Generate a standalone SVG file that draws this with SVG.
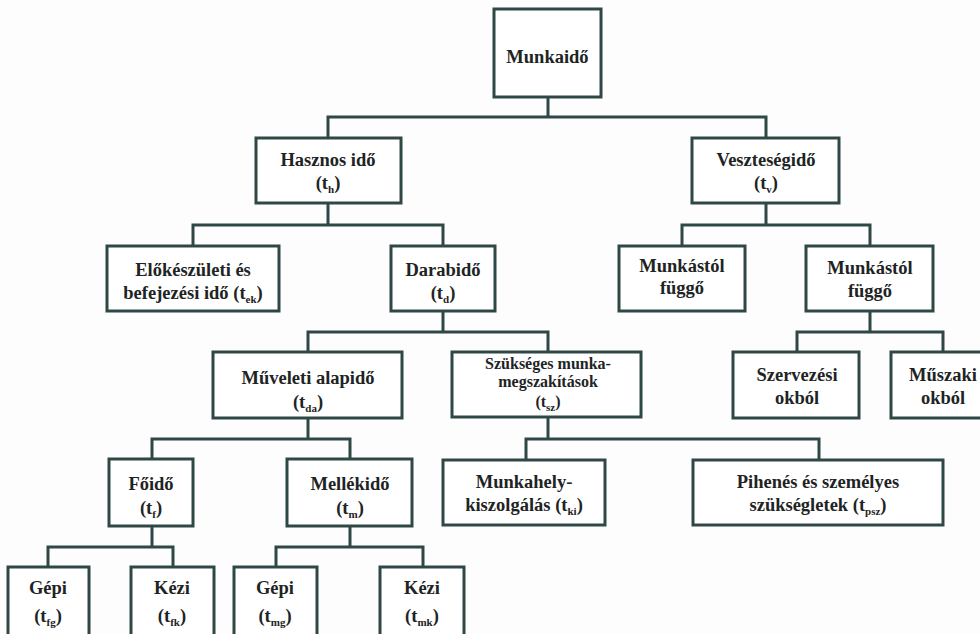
<svg xmlns="http://www.w3.org/2000/svg" width="980" height="634" viewBox="0 0 980 634">
<defs>
<style>
.box{fill:#ffffff;stroke:#2f4846;stroke-width:3}
.con{fill:none;stroke:#2f4846;stroke-width:3}
.t text{font-weight:bold;font-size:18.5px;fill:#1e2424;text-anchor:middle}
.sub{font-size:11px}
.t text.tight{font-size:16px}
</style>
</defs>
<rect width="980" height="634" fill="#fdfdfd"/>
<g id="connectors">
<path class="con" d="M548,97V117M328,138V117H766V138"/>
<path class="con" d="M328,203V225M193,246V225H443V246"/>
<path class="con" d="M766,203V225M682,246V225H870V246"/>
<path class="con" d="M443,311V332M308,352V332H548V352"/>
<path class="con" d="M870,311V332M797,352V332H943V352"/>
<path class="con" d="M308,418V439M152,459V439H350V459"/>
<path class="con" d="M548,418V439M526,460V439H819V460"/>
<path class="con" d="M152,526V547M48,567V547H173V567"/>
<path class="con" d="M350,526V547M276,567V547H423V567"/>
</g>
<g class="t" font-family="Liberation Serif, DejaVu Serif, Times New Roman, serif">
<g id="munkaido"><rect class="box" x="494" y="9" width="107" height="88"/><text x="547.5" y="63">Munkaidő</text></g>
<g id="hasznos"><rect class="box" x="256" y="138" width="145" height="65"/><text x="328" y="166">Hasznos idő</text><text x="328" y="189">(t<tspan class="sub" dy="4">h</tspan><tspan dy="-4">)</tspan></text></g>
<g id="veszteseg"><rect class="box" x="692" y="138" width="147" height="65"/><text x="766" y="166">Veszteségidő</text><text x="766" y="189">(t<tspan class="sub" dy="4">v</tspan><tspan dy="-4">)</tspan></text></g>
<g id="elokeszuleti"><rect class="box" x="107" y="246" width="172" height="65"/><text x="193" y="276">Előkészületi és</text><text x="193" y="299">befejezési idő (t<tspan class="sub" dy="4">ek</tspan><tspan dy="-4">)</tspan></text></g>
<g id="darabido"><rect class="box" x="391" y="246" width="104" height="65"/><text x="443" y="276">Darabidő</text><text x="443" y="299">(t<tspan class="sub" dy="4">d</tspan><tspan dy="-4">)</tspan></text></g>
<g id="munkastol1"><rect class="box" x="619" y="246" width="126" height="65"/><text x="682" y="272">Munkástól</text><text x="682" y="294">függő</text></g>
<g id="munkastol2"><rect class="box" x="806" y="246" width="127" height="65"/><text x="870" y="274">Munkástól</text><text x="870" y="297">függő</text></g>
<g id="muveleti"><rect class="box" x="213" y="352" width="189" height="66"/><text x="308" y="384">Műveleti alapidő</text><text x="308" y="408">(t<tspan class="sub" dy="4">da</tspan><tspan dy="-4">)</tspan></text></g>
<g id="szukseges"><rect class="box" x="452" y="352" width="189" height="65"/><text class="tight" x="548" y="369">Szükséges munka-</text><text class="tight" x="548" y="387">megszakítások</text><text class="tight" x="548" y="407">(t<tspan class="sub" dy="4">sz</tspan><tspan dy="-4">)</tspan></text></g>
<g id="szervezesi"><rect class="box" x="733" y="352" width="126" height="66"/><text x="797" y="381">Szervezési</text><text x="797" y="404">okból</text></g>
<g id="muszaki"><rect class="box" x="891" y="352" width="105" height="66"/><text x="943" y="381">Műszaki</text><text x="943" y="404">okból</text></g>
<g id="foido"><rect class="box" x="109" y="459" width="84" height="67"/><text x="151" y="490">Főidő</text><text x="151" y="514">(t<tspan class="sub" dy="4">f</tspan><tspan dy="-4">)</tspan></text></g>
<g id="mellekido"><rect class="box" x="287" y="459" width="125" height="67"/><text x="350" y="490">Mellékidő</text><text x="350" y="514">(t<tspan class="sub" dy="4">m</tspan><tspan dy="-4">)</tspan></text></g>
<g id="munkahely"><rect class="box" x="443" y="460" width="162" height="65"/><text x="524" y="488">Munkahely-</text><text x="524" y="511">kiszolgálás (t<tspan class="sub" dy="4">ki</tspan><tspan dy="-4">)</tspan></text></g>
<g id="pihenes"><rect class="box" x="693" y="460" width="250" height="65"/><text x="818" y="488">Pihenés és személyes</text><text x="818" y="511">szükségletek (t<tspan class="sub" dy="4">psz</tspan><tspan dy="-4">)</tspan></text></g>
<g id="gepi1"><rect class="box" x="8" y="567" width="81" height="80"/><text x="48" y="594">Gépi</text><text x="48" y="622">(t<tspan class="sub" dy="4">fg</tspan><tspan dy="-4">)</tspan></text></g>
<g id="kezi1"><rect class="box" x="131" y="567" width="83" height="80"/><text x="172" y="594">Kézi</text><text x="172" y="622">(t<tspan class="sub" dy="4">fk</tspan><tspan dy="-4">)</tspan></text></g>
<g id="gepi2"><rect class="box" x="234" y="567" width="83" height="80"/><text x="275" y="594">Gépi</text><text x="275" y="622">(t<tspan class="sub" dy="4">mg</tspan><tspan dy="-4">)</tspan></text></g>
<g id="kezi2"><rect class="box" x="380" y="567" width="84" height="80"/><text x="422" y="594">Kézi</text><text x="422" y="622">(t<tspan class="sub" dy="4">mk</tspan><tspan dy="-4">)</tspan></text></g>
</g>
</svg>
